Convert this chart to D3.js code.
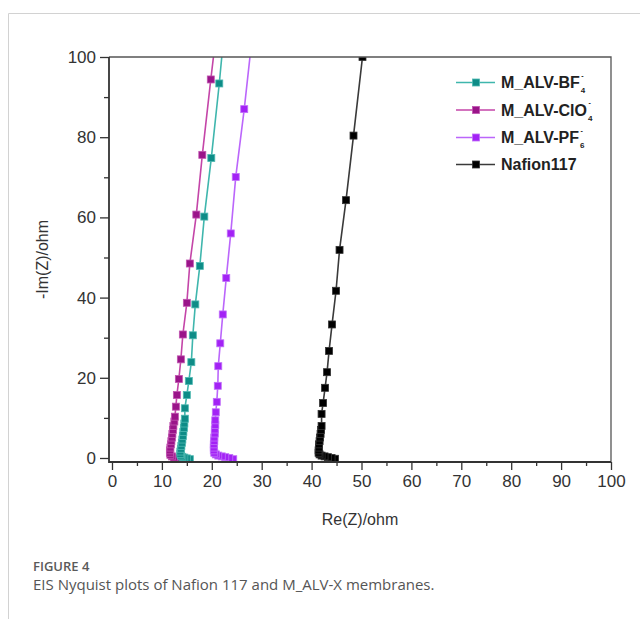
<!DOCTYPE html>
<html>
<head>
<meta charset="utf-8">
<script src="https://cdn.jsdelivr.net/npm/d3@7"></script>
<style>
  html, body { margin: 0; padding: 0; background: #fff; }
  svg { display: block; }
</style>
</head>
<body>
<svg id="chart" width="640" height="619"></svg>
<script>
// ---- data ----
const seriesNames = ["M_ALV-BF", "M_ALV-ClO", "M_ALV-PF", "Nafion117"];
const seriesSub = ["4", "4", "6", ""];
const seriesSup = ["-", "-", "-", ""];

const bf4X = [15.6, 15.0, 14.5, 14.1, 13.8, 13.7, 13.7, 13.8, 13.9, 14.0, 14.1, 14.2, 14.3, 14.4, 14.5, 14.6, 14.6, 15.0, 15.4, 15.9, 16.2, 16.7, 17.6, 18.5, 19.9, 21.5, 22.6];
const bf4Y = [-0.3, -0.1, 0.1, 0.3, 0.6, 1.0, 1.6, 2.3, 3.0, 3.8, 4.6, 5.5, 6.5, 7.5, 8.6, 9.8, 12.4, 15.7, 19.2, 23.9, 30.6, 38.3, 47.9, 60.2, 74.8, 93.4, 108];

const clo4X = [13.5, 12.9, 12.4, 12.0, 11.7, 11.6, 11.6, 11.7, 11.8, 11.9, 12.0, 12.1, 12.2, 12.3, 12.5, 12.6, 12.8, 13.0, 13.4, 13.8, 14.2, 15.0, 15.6, 16.9, 18.1, 19.8, 20.9];
const clo4Y = [-0.3, -0.1, 0.1, 0.4, 0.8, 1.3, 1.9, 2.6, 3.4, 4.2, 5.1, 6.0, 7.0, 8.0, 9.1, 10.3, 12.8, 15.7, 19.7, 24.6, 30.8, 38.7, 48.5, 60.7, 75.6, 94.4, 106];

const pf6X = [24.3, 23.5, 22.7, 22.0, 21.3, 20.8, 20.5, 20.4, 20.4, 20.4, 20.5, 20.5, 20.6, 20.6, 20.7, 20.7, 20.8, 21.0, 21.2, 21.3, 21.7, 22.2, 22.9, 23.8, 24.8, 26.5, 28.0];
const pf6Y = [-0.3, 0.0, 0.2, 0.4, 0.6, 0.9, 1.3, 1.9, 2.6, 3.4, 4.2, 5.1, 6.1, 7.1, 8.2, 9.4, 11.4, 14.0, 18.0, 22.9, 28.6, 35.8, 44.9, 56.0, 70.1, 87.0, 104];

const nafX = [44.7, 44.0, 43.3, 42.6, 42.0, 41.6, 41.4, 41.4, 41.5, 41.5, 41.6, 41.7, 41.8, 41.9, 42.0, 42.0, 42.3, 42.7, 43.1, 43.5, 44.1, 44.9, 45.6, 46.9, 48.4, 50.2];
const nafY = [-0.2, 0.0, 0.2, 0.4, 0.6, 0.9, 1.3, 1.9, 2.6, 3.4, 4.2, 5.1, 6.0, 7.0, 8.0, 11.0, 13.7, 17.5, 21.4, 26.7, 33.3, 41.7, 51.9, 64.3, 80.4, 100];

const xTicks = [0, 10, 20, 30, 40, 50, 60, 70, 80, 90, 100];
const xMinor = [5, 15, 25, 35, 45, 55, 65, 75, 85, 95];
const yTicks = [0, 20, 40, 60, 80, 100];
const yMinor = [10, 30, 50, 70, 90];

const xTitle = "Re(Z)/ohm";
const yTitle = "-Im(Z)/ohm";
const figLabel = "FIGURE 4";
const figCaption = "EIS Nyquist plots of Nafion 117 and M_ALV-X membranes.";

// ---- styles ----
const markerColors = ["#0e8c87", "#9a1489", "#a322f5", "#000000"];
const markerStroke = ["#4fb9b2", "#c055b0", "#c070fa", "#333333"];
const lineColors = ["#3fb6ad", "#c445a8", "#bb66fb", "#3a3a3a"];

const svg = d3.select("#chart");
const font = "'Liberation Sans', Arial, sans-serif";

// card border
svg.append("path")
  .attr("d", "M8.5,619 L8.5,13.5 L640,13.5")
  .attr("fill", "none").attr("stroke", "#d2d2d2").attr("stroke-width", 1);

const L = 109, R = 611, T = 57, B = 462;
const x = d3.scaleLinear().domain([-0.6, 100]).range([L, R]);
const y = d3.scaleLinear().domain([-1, 100]).range([B, T]);

const axisColor = "#333";

// X axis
const gx = svg.append("g").attr("transform", `translate(0,${B})`);
gx.call(d3.axisBottom(x).tickValues(xTicks).tickSize(8).tickPadding(5).tickFormat(d3.format("d")));
gx.append("g").call(d3.axisBottom(x).tickValues(xMinor).tickSize(4).tickFormat(""));
gx.selectAll(".domain").remove();
gx.selectAll("line").attr("stroke", axisColor).attr("stroke-width", 1.3);
gx.selectAll("text").attr("font-family", font).attr("font-size", 17).attr("fill", "#333");

// Y axis
const gy = svg.append("g").attr("transform", `translate(${L},0)`);
gy.call(d3.axisLeft(y).tickValues(yTicks).tickSize(9).tickPadding(4).tickFormat(d3.format("d")));
gy.append("g").call(d3.axisLeft(y).tickValues(yMinor).tickSize(5).tickFormat(""));
gy.selectAll(".domain").remove();
gy.selectAll("line").attr("stroke", axisColor).attr("stroke-width", 1.3);
gy.selectAll("text").attr("font-family", font).attr("font-size", 17).attr("fill", "#333");

// clip
svg.append("defs").append("clipPath").attr("id", "plotclip")
  .append("rect").attr("x", L).attr("y", T).attr("width", R - L).attr("height", B - T);

const plot = svg.append("g").attr("clip-path", "url(#plotclip)");

const series = [
  { xs: nafX, ys: nafY, i: 3 },
  { xs: pf6X, ys: pf6Y, i: 2 },
  { xs: clo4X, ys: clo4Y, i: 1 },
  { xs: bf4X, ys: bf4Y, i: 0 }
];

const line = d3.line().x(d => x(d[0])).y(d => y(d[1]));
const ms = 7;
series.forEach(s => {
  const pts = s.xs.map((v, k) => [v, s.ys[k]]);
  plot.append("path").datum(pts).attr("d", line)
    .attr("fill", "none").attr("stroke", lineColors[s.i]).attr("stroke-width", 1.6);
  plot.selectAll(null).data(pts).enter().append("rect")
    .attr("x", d => x(d[0]) - ms / 2).attr("y", d => y(d[1]) - ms / 2)
    .attr("width", ms).attr("height", ms)
    .attr("fill", markerColors[s.i]).attr("stroke", markerStroke[s.i]).attr("stroke-width", 0.8);
});

// frame
svg.append("path")
  .attr("d", `M${L},${T} L${R},${T} L${R},${B}`)
  .attr("fill", "none").attr("stroke", "#555").attr("stroke-width", 1.3);
svg.append("path")
  .attr("d", `M${L},${T} L${L},${B} L${R},${B}`)
  .attr("fill", "none").attr("stroke", axisColor).attr("stroke-width", 1.8);

// axis titles
svg.append("text").attr("x", (L + R) / 2).attr("y", 525).attr("text-anchor", "middle")
  .attr("font-family", font).attr("font-size", 16).attr("fill", "#333").text(xTitle);
svg.append("text").attr("transform", `translate(48,${(T + B) / 2}) rotate(-90)`).attr("text-anchor", "middle")
  .attr("font-family", font).attr("font-size", 16).attr("fill", "#333").text(yTitle);

// legend
const legRows = [82.5, 110, 137.5, 164.5];
seriesNames.forEach((name, i) => {
  const g = svg.append("g").attr("transform", `translate(0,${legRows[i]})`);
  g.append("line").attr("x1", 456).attr("x2", 495).attr("y1", 0).attr("y2", 0)
    .attr("stroke", lineColors[i]).attr("stroke-width", 1.6);
  g.append("rect").attr("x", 476 - ms / 2).attr("y", -ms / 2).attr("width", ms).attr("height", ms)
    .attr("fill", markerColors[i]).attr("stroke", markerStroke[i]).attr("stroke-width", 0.8);
  const t = g.append("text").attr("x", 501).attr("y", 5.5)
    .attr("font-family", font).attr("font-size", 16).attr("font-weight", "bold").attr("fill", "#222")
    .text(name);
  if (seriesSub[i]) {
    const w = t.node().getComputedTextLength();
    g.append("text").attr("x", 501 + w + 1).attr("y", 10.5)
      .attr("font-family", font).attr("font-size", 8).attr("font-weight", "bold").attr("fill", "#222")
      .text(seriesSub[i]);
    g.append("text").attr("x", 501 + w + 1.5).attr("y", -5)
      .attr("font-family", font).attr("font-size", 7).attr("font-weight", "bold").attr("fill", "#222")
      .text(seriesSup[i]);
  }
});

// caption
svg.append("text").attr("x", 33).attr("y", 570.5)
  .attr("font-family", "'Open Sans', sans-serif").attr("font-size", 13).attr("font-weight", 600)
  .attr("fill", "#5a5a5a").text(figLabel);
svg.append("text").attr("x", 33).attr("y", 589.5)
  .attr("font-family", "'Open Sans', sans-serif").attr("font-size", 15).attr("font-weight", 400)
  .attr("fill", "#555").text(figCaption);
</script>
</body>
</html>
